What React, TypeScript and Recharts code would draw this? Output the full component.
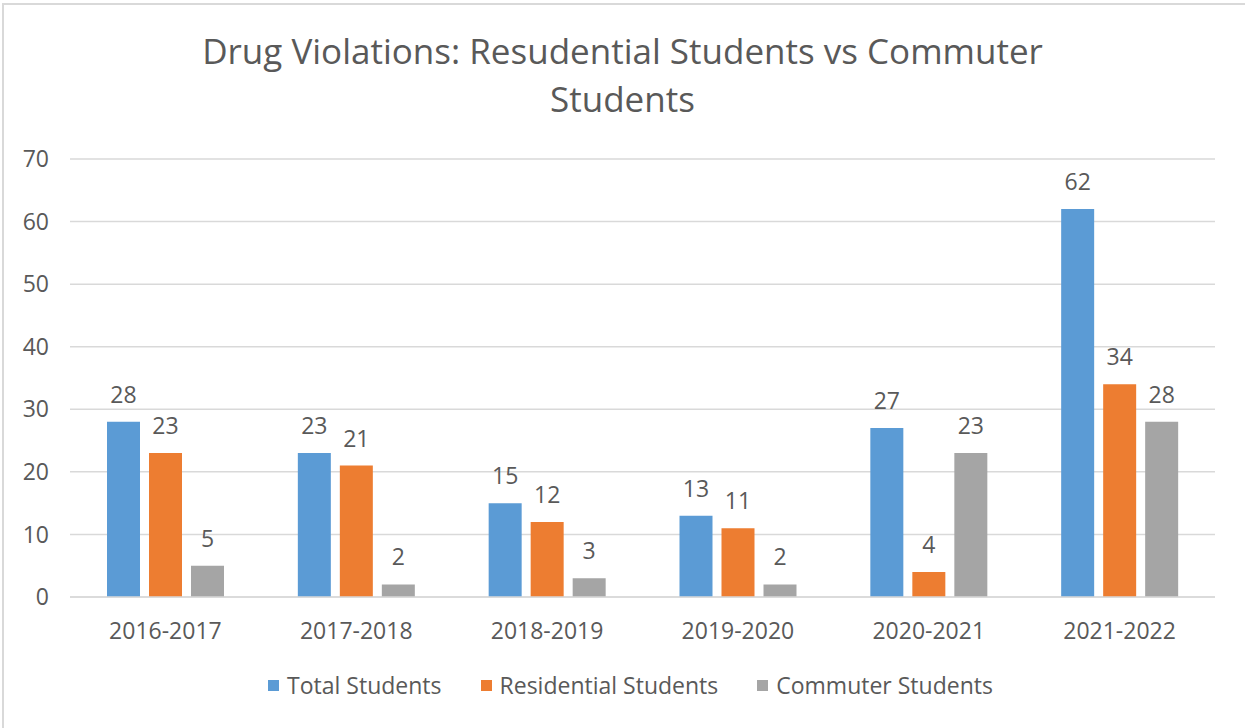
import { BarChart, Bar, XAxis, YAxis, CartesianGrid, Legend, LabelList } from 'recharts';

const years = ['2016-2017', '2017-2018', '2018-2019', '2019-2020', '2020-2021', '2021-2022'];
const totalStudents = [28, 23, 15, 13, 27, 62];
const residentialStudents = [23, 21, 12, 11, 4, 34];
const commuterStudents = [5, 2, 3, 2, 23, 28];
const yTicks = [0, 10, 20, 30, 40, 50, 60, 70];

const series = [
  { key: 'total', name: 'Total Students', color: '#5b9bd5' },
  { key: 'residential', name: 'Residential Students', color: '#ed7d31' },
  { key: 'commuter', name: 'Commuter Students', color: '#a5a5a5' },
];

const data = years.map((year, i) => ({
  year,
  total: totalStudents[i],
  residential: residentialStudents[i],
  commuter: commuterStudents[i],
}));

const FONT = '"Open Sans", "Liberation Sans", sans-serif';
const TEXT = '#595959';

function LegendContent() {
  return (
    <div
      style={{
        display: 'flex',
        justifyContent: 'center',
        gap: 39,
        paddingLeft: 16,
        fontFamily: FONT,
        fontSize: 23,
        color: TEXT,
      }}
    >
      {series.map((s) => (
        <div key={s.key} style={{ display: 'flex', alignItems: 'center' }}>
          <span style={{ width: 11, height: 11, background: s.color, marginRight: 8, display: 'inline-block' }} />
          <span>{s.name}</span>
        </div>
      ))}
    </div>
  );
}

function App() {
  return (
    <div style={{ position: 'absolute', left: 0, top: 0, width: 1245, height: 728, background: '#fff', overflow: 'hidden' }}>
      {/* chart frame: only top and left edges are in view */}
      <div
        style={{
          position: 'absolute',
          left: 2,
          top: 3,
          width: 1260,
          height: 740,
          border: '2px solid #d9d9d9',
          boxSizing: 'border-box',
        }}
      />
      <div
        style={{
          position: 'absolute',
          left: 0,
          top: 27,
          width: 1245,
          textAlign: 'center',
          fontFamily: FONT,
          fontSize: 35,
          lineHeight: '48px',
          color: TEXT,
        }}
      >
        Drug Violations: Resudential Students vs Commuter
        <br />
        Students
      </div>
      <BarChart
        width={1245}
        height={728}
        data={data}
        margin={{ top: 159, right: 30, bottom: 69, left: 0 }}
        barSize={33}
        barGap={9}
        style={{ position: 'absolute', left: 0, top: 0 }}
      >
        <CartesianGrid vertical={false} stroke="#d9d9d9" strokeWidth={1.5} />
        <XAxis
          dataKey="year"
          axisLine={{ stroke: '#d9d9d9', strokeWidth: 1.5 }}
          tickLine={false}
          tickMargin={20}
          tick={{ fill: TEXT, fontSize: 23, fontFamily: FONT }}
        />
        <YAxis
          width={70}
          domain={[0, 70]}
          ticks={yTicks}
          axisLine={false}
          tickLine={false}
          tickMargin={15}
          tick={{ fill: TEXT, fontSize: 23, fontFamily: FONT }}
        />
        <Legend
          verticalAlign="bottom"
          content={<LegendContent />}
          wrapperStyle={{ bottom: 27, left: 0, width: 1245 }}
        />
        {series.map((s) => (
          <Bar key={s.key} dataKey={s.key} name={s.name} fill={s.color} isAnimationActive={false}>
            <LabelList dataKey={s.key} position="top" offset={19} fill={TEXT} fontSize={23} fontFamily={FONT} />
          </Bar>
        ))}
      </BarChart>
    </div>
  );
}

export default App;
